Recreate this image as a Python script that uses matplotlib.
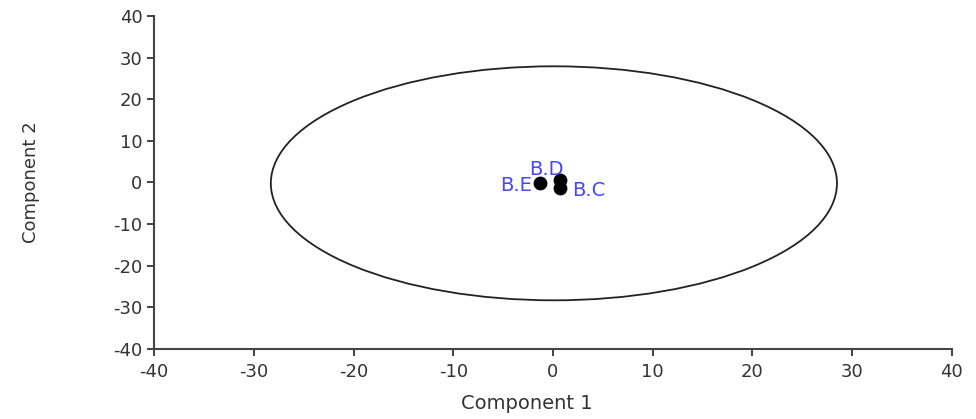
import matplotlib
matplotlib.use("Agg")
import matplotlib.pyplot as plt
from matplotlib.patches import Ellipse

# scores on the first two components
labels = ["B.E", "B.D", "B.C"]
comp1 = [-1.3, 0.7, 0.7]
comp2 = [-0.2, 0.7, -1.4]

# confidence ellipse
ell_center = (0.1, -0.2)
ell_width = 56.8
ell_height = 56.2

ticks = [-40, -30, -20, -10, 0, 10, 20, 30, 40]

plt.rcParams["font.family"] = ["DejaVu Sans"]
plt.rcParams["axes.unicode_minus"] = False

fig = plt.figure(figsize=(9.76, 4.19), dpi=100)
ax = fig.add_axes([0.158, 0.167, 0.817, 0.795])

ax.add_patch(Ellipse(ell_center, ell_width, ell_height, fill=False,
                     edgecolor="#222222", linewidth=1.3))
ax.scatter(comp1, comp2, s=80, color="black", zorder=3)

# label positions relative to each point
offsets = {"B.E": (-0.8, -0.5, "right"), "B.D": (-1.4, 2.4, "center"),
           "B.C": (1.2, -0.5, "left")}
for lab, x, y in zip(labels, comp1, comp2):
    dx, dy, ha = offsets[lab]
    ax.text(x + dx, y + dy, lab, color="#4545ff", fontsize=14,
            ha=ha, va="center")

ax.set_xlim(-40, 40)
ax.set_ylim(-40, 40)
ax.set_xticks(ticks)
ax.set_yticks(ticks)
ax.tick_params(labelsize=13, colors="#333333", length=5, width=1.3)
ax.tick_params(axis="x", pad=5)
ax.spines["top"].set_visible(False)
ax.spines["right"].set_visible(False)
for side in ["left", "bottom"]:
    ax.spines[side].set_linewidth(1.5)
    ax.spines[side].set_color("#444444")

ax.set_xlabel("Component 1", fontsize=14, color="#333333")
ax.xaxis.set_label_coords(0.467, -0.135)
ax.set_ylabel("Component 2", fontsize=13, color="#333333")
ax.yaxis.set_label_coords(-0.143, 0.5)

fig.savefig("out.png", dpi=100)
